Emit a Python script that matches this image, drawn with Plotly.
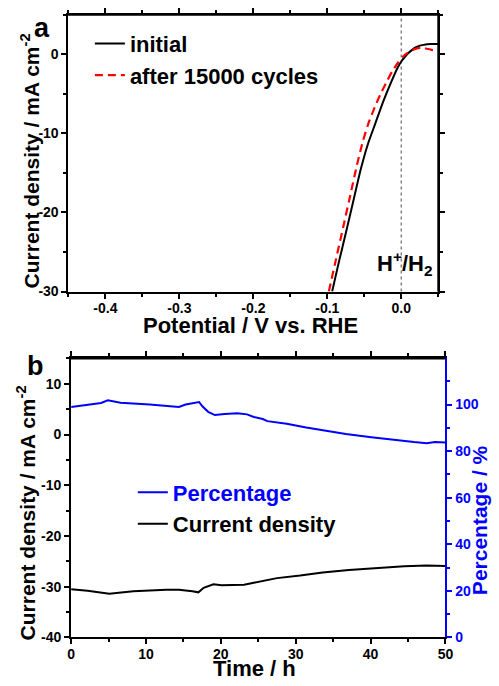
import plotly.graph_objects as go

W, H = 499, 686

# ---------- Panel a data ----------
pot_initial = [-0.0935, -0.085, -0.075, -0.065, -0.055, -0.045, -0.035, -0.025, -0.015, -0.005,
               0.000, 0.005, 0.010, 0.015, 0.020, 0.025, 0.030, 0.035, 0.040, 0.050]
cur_initial = [-30.0, -26.5, -22.6, -18.6, -14.6, -11.3, -8.7, -6.1, -3.8, -1.7,
               -0.9, -0.3, 0.2, 0.6, 0.9, 1.1, 1.2, 1.28, 1.3, 1.32]

pot_after = [-0.098, -0.088, -0.078, -0.068, -0.060, -0.052, -0.044, -0.036, -0.028, -0.020,
             -0.012, -0.004, 0.002, 0.008, 0.014, 0.020, 0.026, 0.031, 0.036, 0.041, 0.046]
cur_after = [-30.0, -25.8, -21.6, -17.4, -14.0, -11.0, -8.6, -6.7, -5.0, -3.5,
             -2.1, -1.0, -0.3, 0.15, 0.5, 0.72, 0.83, 0.8, 0.68, 0.57, 0.5]

a_xtick_vals = [-0.4, -0.3, -0.2, -0.1, 0.0]
a_xtick_text = ["-0.4", "-0.3", "-0.2", "-0.1", "0.0"]
a_ytick_vals = [-30, -20, -10, 0]
a_ytick_text = ["-30", "-20", "-10", "0"]

# ---------- Panel b data ----------
time_pct = [0, 2.2, 4.0, 4.9, 6.6, 10.5, 12.7, 14.4, 15.3, 16.4, 17.1, 17.5, 18.3, 19.2, 20.5,
            22.2, 23.5, 24.4, 25.6, 26.2, 28.8, 31.4, 33.6, 36.7, 40.1, 43.2, 45.8, 47.5, 48.6, 50]
percentage = [99.0, 100.0, 100.7, 101.8, 100.8, 100.0, 99.4, 99.0, 100.0, 100.7, 101.1, 99.4, 96.9,
              95.5, 96.0, 96.3, 95.8, 94.7, 93.8, 92.9, 91.8, 90.2, 89.0, 87.4, 86.0, 84.7, 83.9,
              83.4, 83.9, 83.7]

time_cur = [0, 2.2, 5.1, 8.3, 12.7, 14.4, 16.2, 17.0, 17.7, 19.0, 20.1, 23.1, 24.4, 25.6, 27.5,
            30.6, 33.6, 37.1, 41.0, 44.5, 47.5, 50]
current_b = [-30.5, -30.8, -31.4, -30.9, -30.6, -30.6, -30.9, -31.1, -30.2, -29.5, -29.7, -29.6,
             -29.2, -28.8, -28.3, -27.8, -27.2, -26.7, -26.3, -25.95, -25.8, -25.9]

b_ytick_vals = [-40, -30, -20, -10, 0, 10]
b_ytick_text = ["-40", "-30", "-20", "-10", "0", "10"]

FONT = "Liberation Sans"
BLUE = "#0000ff"
TSIZE = 22

# plot-area geometry (pixels)
A_L, A_R, A_T, A_B = 66, 445, 15, 295
B_L, B_R, B_T, B_B = 68.8, 452.3, 362.7, 645

fig = go.Figure()

fig.add_trace(go.Scatter(x=pot_initial, y=cur_initial, mode="lines", name="initial",
                         line=dict(color="black", width=2, shape="spline", smoothing=0.5),
                         xaxis="x", yaxis="y", legend="legend"))
fig.add_trace(go.Scatter(x=pot_after, y=cur_after, mode="lines", name="after 15000 cycles",
                         line=dict(color="red", width=2.2, dash="8px,5px", shape="spline",
                                   smoothing=0.5),
                         xaxis="x", yaxis="y", legend="legend"))

fig.add_trace(go.Scatter(x=time_pct, y=percentage, mode="lines",
                         name="<span style='color:#0000ff'>Percentage</span>",
                         line=dict(color=BLUE, width=2), xaxis="x2", yaxis="y4", legend="legend2"))
fig.add_trace(go.Scatter(x=time_cur, y=current_b, mode="lines", name="Current density",
                         line=dict(color="black", width=2), xaxis="x2", yaxis="y3", legend="legend2"))

tickfont = dict(family=FONT, size=14, color="black", weight="bold")
common = dict(showgrid=False, zeroline=False, showline=True, linewidth=2, linecolor="black",
              ticks="outside", ticklen=5, tickwidth=2, tickcolor="black", tickfont=tickfont)
minor_k = dict(ticks="outside", ticklen=3, tickwidth=1.5, tickcolor="black")

fig.update_layout(
    width=W, height=H, autosize=False,
    margin=dict(l=0, r=0, t=0, b=0),
    paper_bgcolor="white", plot_bgcolor="white",
    showlegend=True,
    xaxis=dict(domain=[A_L / W, A_R / W], anchor="y", range=[-0.45, 0.05], mirror="ticks",
               tickmode="array", tickvals=a_xtick_vals, ticktext=a_xtick_text,
               ticklabelstandoff=-2,
               minor=dict(dtick=0.05, tick0=0, **minor_k), **common),
    yaxis=dict(domain=[1 - A_B / H, 1 - A_T / H], anchor="x", range=[-30, 5], mirror="ticks",
               tickmode="array", tickvals=a_ytick_vals, ticktext=a_ytick_text,
               minor=dict(dtick=5, tick0=0, **minor_k), **common),
    xaxis2=dict(domain=[B_L / W, B_R / W], anchor="y3", range=[0, 50], mirror="ticks",
                dtick=10, tick0=0, ticklabelstandoff=-2,
                minor=dict(dtick=5, tick0=0, **minor_k), **common),
    yaxis3=dict(domain=[1 - B_B / H, 1 - B_T / H], anchor="x2", range=[-40, 15], mirror=False,
                tickmode="array", tickvals=b_ytick_vals, ticktext=b_ytick_text,
                minor=dict(dtick=5, tick0=0, **minor_k), **common),
    yaxis4=dict(overlaying="y3", side="right", anchor="x2", range=[0, 119.8], dtick=20, tick0=0,
                showgrid=False, zeroline=False, showline=True, linewidth=2, linecolor=BLUE,
                ticks="outside", ticklen=5, tickwidth=2, tickcolor=BLUE,
                tickfont=dict(family=FONT, size=14, color=BLUE, weight="bold"),
                minor=dict(dtick=10, tick0=0, ticks="outside", ticklen=3, tickwidth=1.5,
                           tickcolor=BLUE)),
    legend=dict(x=88 / W, y=1 - 23 / H, xanchor="left", yanchor="top", bgcolor="rgba(0,0,0,0)",
                font=dict(family=FONT, size=TSIZE, color="black", weight="bold"),
                tracegroupgap=0, itemwidth=30),
    legend2=dict(x=132 / W, y=1 - 477 / H, xanchor="left", yanchor="top", bgcolor="rgba(0,0,0,0)",
                 font=dict(family=FONT, size=TSIZE, color="black", weight="bold"),
                 tracegroupgap=0, itemwidth=30),
)

# frame lines in paper coordinates (top/right of panel a, top of panel b)
def pline(x0, y0, x1, y1, color="black"):
    fig.add_shape(type="line", xref="paper", yref="paper",
                  x0=x0 / W, x1=x1 / W, y0=1 - y0 / H, y1=1 - y1 / H,
                  line=dict(color=color, width=2), layer="above")

pline(A_L - 1, A_T, A_R + 1, A_T)
pline(A_R, A_T, A_R, A_B)
pline(B_L - 1, B_T, B_R, B_T)

fig.add_shape(type="line", xref="x", yref="y domain", x0=0, x1=0, y0=0, y1=1,
              line=dict(color="gray", width=1.5, dash="3px,3px"), layer="below")

def ann(text, x, y, size=TSIZE, color="black", angle=0, xref="paper", yref="paper"):
    fig.add_annotation(text=text, x=x, y=y, xref=xref, yref=yref, showarrow=False,
                       textangle=angle, xanchor="center", yanchor="middle",
                       font=dict(family=FONT, size=size, color=color, weight="bold"))

ann("a", 39 / W, 1 - 28 / H, size=27)
ann("b", 32 / W, 1 - 370 / H, size=27)
ann("Current density / mA cm<sup>-2</sup>", 27 / W, 1 - 163 / H, size=21, angle=-90)
ann("Potential / V vs. RHE", 253 / W, 1 - 329 / H)
ann("Current density / mA cm<sup>-2</sup>", 23 / W, 1 - 519 / H, size=21, angle=-90)
ann("Time / h", 257 / W, 1 - 676 / H)
ann("Percentage / %", 488 / W, 1 - 526 / H, size=21, color=BLUE, angle=-90)
ann("H<sup>+</sup>/H<sub>2</sub>", 0.004, -26.4, xref="x", yref="y")

fig.write_html("out.html", config={"displayModeBar": False},
               post_script="document.body.style.margin='0';document.body.style.overflow='hidden';")
